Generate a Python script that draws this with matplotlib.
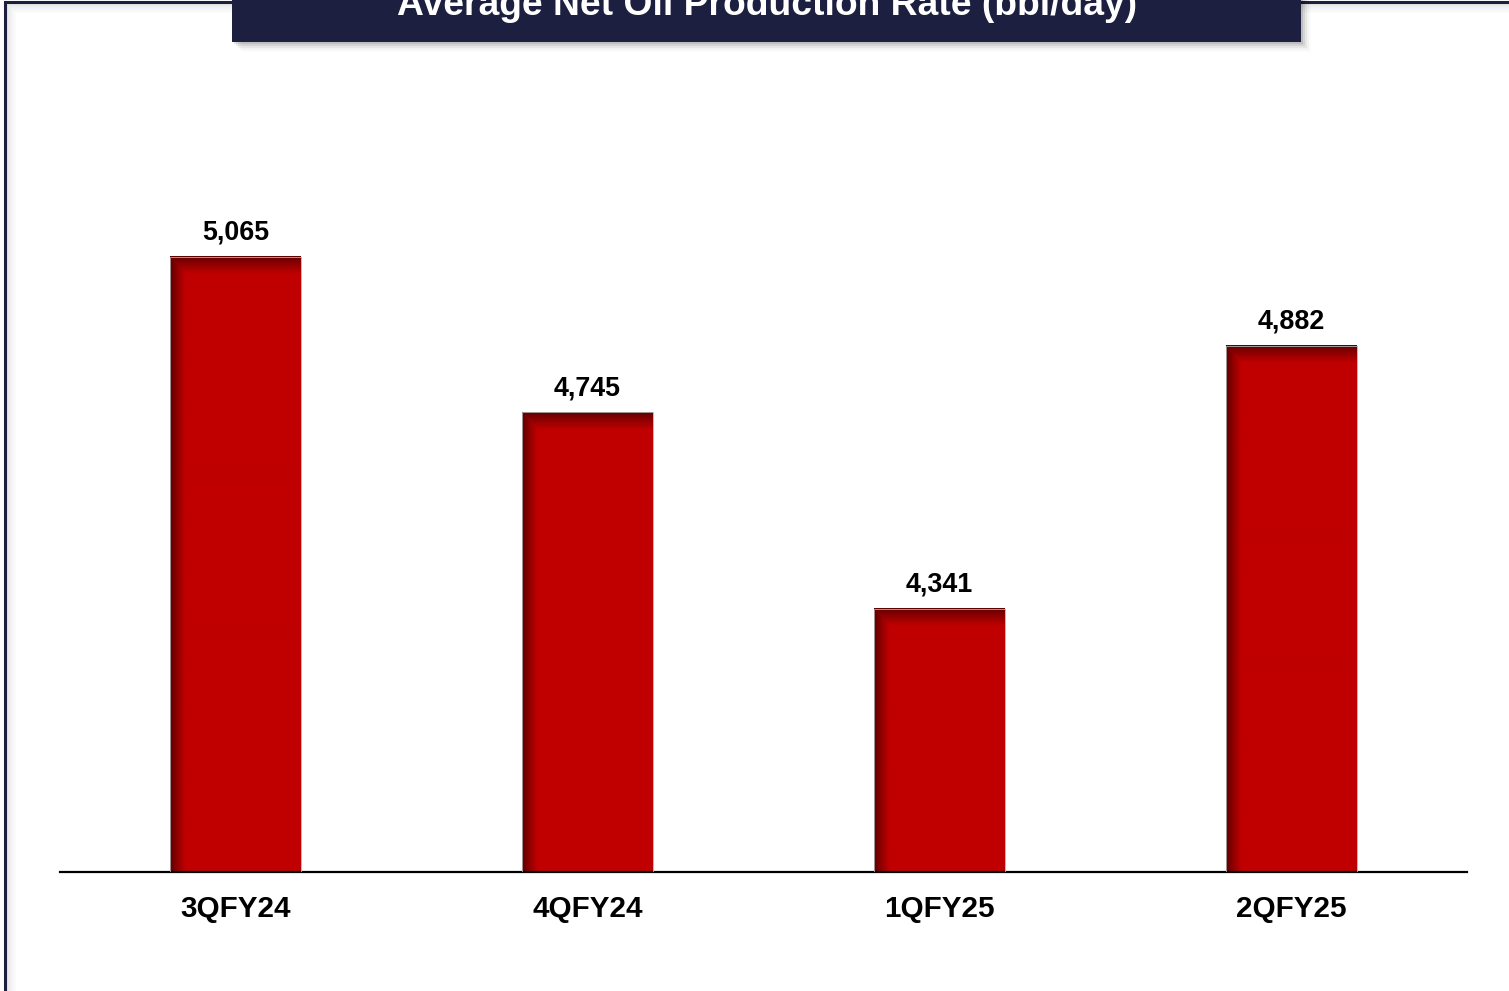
import numpy as np
import matplotlib.pyplot as plt
from matplotlib.patches import Rectangle

# data
quarters = ['3QFY24', '4QFY24', '1QFY25', '2QFY25']
rates = [5065, 4745, 4341, 4882]
title = 'Average Net Oil Production Rate (bbl/day)'

W, H = 1509, 991
plt.rcParams['font.family'] = ['Liberation Sans', 'DejaVu Sans']

fig = plt.figure(figsize=(W / 100, H / 100), dpi=100)
fig.patch.set_facecolor('white')


def px_rect(x0, y0, x1, y1, **kw):
    # rectangle given in image pixels (y measured from the top)
    r = Rectangle((x0 / W, 1 - y1 / H), (x1 - x0) / W, (y1 - y0) / H,
                  transform=fig.transFigure, **kw)
    fig.add_artist(r)
    return r


# outer frame with soft inner shadow
for i, a in enumerate([0.10, 0.07, 0.05, 0.03, 0.015]):
    px_rect(7 + i * 2, 4 + i * 2, W + 50, H + 50, fill=False,
            edgecolor='black', lw=1.5, alpha=a)
px_rect(5, 2, W + 50, H + 50, fill=False, edgecolor='#1c1f3f', lw=2.2)

# title box with drop shadow
for i, a in enumerate([0.10, 0.07, 0.05, 0.03, 0.015]):
    px_rect(232 + 2 + i * 2, -20, 1301 + 2 + i * 2, 42 + 2 + i * 2,
            facecolor='black', edgecolor='none', alpha=a)
px_rect(232, -20, 1301, 42, facecolor='#1c1f3f', edgecolor='none')
fig.text(767 / W, 1 - 15 / H, title, color='white', fontsize=26.8,
         fontweight='bold', ha='center', va='baseline')

# chart area
ymin, ymax = 3800, 5400
ax = fig.add_axes([60 / W, 1 - 872 / H, 1407 / W, 778 / H])
ax.patch.set_alpha(0)

bar_w = 0.372
base = np.array([0xC0, 0x00, 0x00]) / 255
dark = np.array([0x58, 0x00, 0x00]) / 255

# pixels per data unit
ppx = 1407 / len(quarters)
ppy = 778 / (ymax - ymin)

x = np.arange(len(quarters))
for xi, v in zip(x, rates):
    wpx = int(round(bar_w * ppx))
    hpx = int(round((v - ymin) * ppy))
    dx = np.arange(wpx)[None, :] + 0.5
    dy = np.arange(hpx)[:, None] + 0.5
    tl = np.clip(dx / 16, 0, 1)
    tt = np.clip(dy / 18, 0, 1)
    f = np.minimum(tl, tt) ** 0.8
    img = dark[None, None, :] + (base - dark)[None, None, :] * f[..., None]
    ax.imshow(img, extent=[xi - bar_w / 2, xi + bar_w / 2, ymin, v],
              origin='upper', aspect='auto', interpolation='bilinear', zorder=2)
    ax.add_patch(Rectangle((xi - bar_w / 2, ymin), bar_w, v - ymin, fill=False,
                           edgecolor='#b0b0b0', lw=0.6, zorder=3))
    ax.annotate(f'{v:,}', (xi, v), xytext=(0, 12.3), textcoords='offset points',
                ha='center', va='baseline', fontsize=19.4, fontweight='bold',
                color='black')

ax.set_xlim(-0.5, len(quarters) - 0.5)
ax.set_ylim(ymin, ymax)

ax.set_xticks(x)
ax.set_xticklabels(quarters, fontsize=21.3, fontweight='bold')
ax.tick_params(axis='x', length=0, pad=16.5)
ax.set_yticks([])
for s in ['top', 'right', 'left']:
    ax.spines[s].set_visible(False)
ax.spines['bottom'].set_linewidth(1.6)
ax.spines['bottom'].set_color('black')

fig.savefig('out.png', dpi=100)
